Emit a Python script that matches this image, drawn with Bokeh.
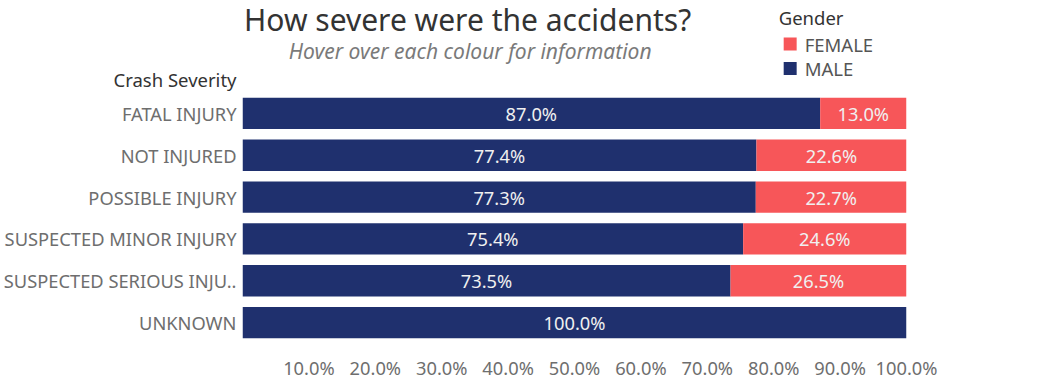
from bokeh.plotting import figure
from bokeh.layouts import column
from bokeh.models import (ColumnDataSource, Range1d, FixedTicker,
                          NumeralTickFormatter, LabelSet)
from bokeh.core.properties import value
from bokeh.embed import file_html
from bokeh.resources import INLINE

severity = ["FATAL INJURY", "NOT INJURED", "POSSIBLE INJURY",
            "SUSPECTED MINOR INJURY", "SUSPECTED SERIOUS INJU..", "UNKNOWN"]
male = [0.870, 0.774, 0.773, 0.754, 0.735, 1.000]
female = [0.130, 0.226, 0.227, 0.246, 0.265, 0.000]
x_ticks = [0.1, 0.2, 0.3, 0.4, 0.5, 0.6, 0.7, 0.8, 0.9, 1.0]
legend_names = ["FEMALE", "MALE"]
axis_caption = "Crash Severity"

MALE_C = "#1f306e"
FEMALE_C = "#f75659"
FONT = "Noto Sans"

W = 1020
left, right = 241, 906
HH = 92          # header height
H2 = 290         # main chart height
n = len(severity)
ypos = list(range(n))

# ---------------- header (title, subtitle, legend, axis caption) ----------
hdr = figure(width=W, height=HH, output_backend="svg", toolbar_location=None,
             x_range=Range1d(left, right), y_range=Range1d(HH, 0),
             min_border_left=left, min_border_right=W - right,
             min_border_top=0, min_border_bottom=0,
             outline_line_color=None,
             background_fill_color="white", border_fill_color="white")
hdr.xaxis.visible = False
hdr.grid.visible = False
hdr.yaxis.ticker = FixedTicker(ticks=[80])
hdr.yaxis.major_label_overrides = {80: axis_caption}
hdr.yaxis.axis_line_color = None
hdr.yaxis.major_tick_line_color = None
hdr.yaxis.minor_tick_line_color = None
hdr.yaxis.major_label_standoff = 0
hdr.yaxis.major_label_text_font = FONT
hdr.yaxis.major_label_text_font_size = "18.5px"
hdr.yaxis.major_label_text_color = "#333333"

def htext(x, y, text, size, color, align="left", style="normal"):
    hdr.text(x=[x], y=[y], text=[text], text_font=value(FONT),
             text_font_size=size, text_color=color, text_align=align,
             text_baseline="middle", text_font_style=style)

htext(466.5, 19, "How severe were the accidents?", "30px", "#333333", "center")
htext(469, 50, "Hover over each colour for information", "21px", "#7a7a7a",
      "center", "italic")
htext(778, 17, "Gender", "18.5px", "#333333")

leg = ColumnDataSource(dict(x=[789.5, 789.5], y=[43.5, 68],
                            tx=[804, 804], name=legend_names,
                            c=[FEMALE_C, MALE_C]))
hdr.rect(x="x", y="y", width=13, height=13, source=leg,
         fill_color="c", line_color=None)
hdr.text(x="tx", y="y", text="name", source=leg, text_font=value(FONT),
         text_font_size="18.5px", text_color="#555555",
         text_baseline="middle", text_align="left")

# ---------------- main bar chart ------------------------------------------
fh = 6 * 43
p = figure(width=W, height=H2, output_backend="svg", toolbar_location=None,
           y_range=Range1d(n - 0.5, -0.5), x_range=Range1d(0, 1),
           min_border_left=left, min_border_right=W - right,
           min_border_top=0, min_border_bottom=H2 - fh,
           outline_line_color=None, background_fill_color="white",
           border_fill_color="white")

src = ColumnDataSource(dict(
    y=ypos, male=male, female=female,
    total=[m + f for m, f in zip(male, female)],
    mmid=[m / 2 for m in male],
    fmid=[m + f / 2 for m, f in zip(male, female)],
    mlab=[f"{m*100:.1f}%" for m in male],
    flab=[f"{f*100:.1f}%" if f > 0 else "" for f in female],
))

p.hbar(y="y", left=0, right="male", height=0.75, source=src,
       fill_color=MALE_C, line_color=None)
p.hbar(y="y", left="male", right="total", height=0.75, source=src,
       fill_color=FEMALE_C, line_color=None)

for xcol, tcol in (("mmid", "mlab"), ("fmid", "flab")):
    p.add_layout(LabelSet(x=xcol, y="y", text=tcol, source=src,
                          text_align="center", text_baseline="middle",
                          text_color="#f0f0f0", text_font_size="18.3px",
                          text_font=value(FONT)))

p.xgrid.visible = False
p.ygrid.visible = False
for ax in (p.xaxis, p.yaxis):
    ax.axis_line_color = None
    ax.major_tick_line_color = None
    ax.minor_tick_line_color = None
    ax.major_label_text_color = "#6e6e6e"
    ax.major_label_text_font = FONT
    ax.major_label_text_font_size = "18.3px"
p.xaxis.ticker = FixedTicker(ticks=x_ticks)
p.xaxis.formatter = NumeralTickFormatter(format="0.0%")
p.xaxis.major_label_standoff = 5
p.yaxis.ticker = FixedTicker(ticks=ypos)
p.yaxis.major_label_overrides = {i: s for i, s in zip(ypos, severity)}
p.yaxis.major_label_standoff = 0

layout = column(hdr, p, spacing=0)
open("out.html", "w").write(file_html(layout, INLINE))
